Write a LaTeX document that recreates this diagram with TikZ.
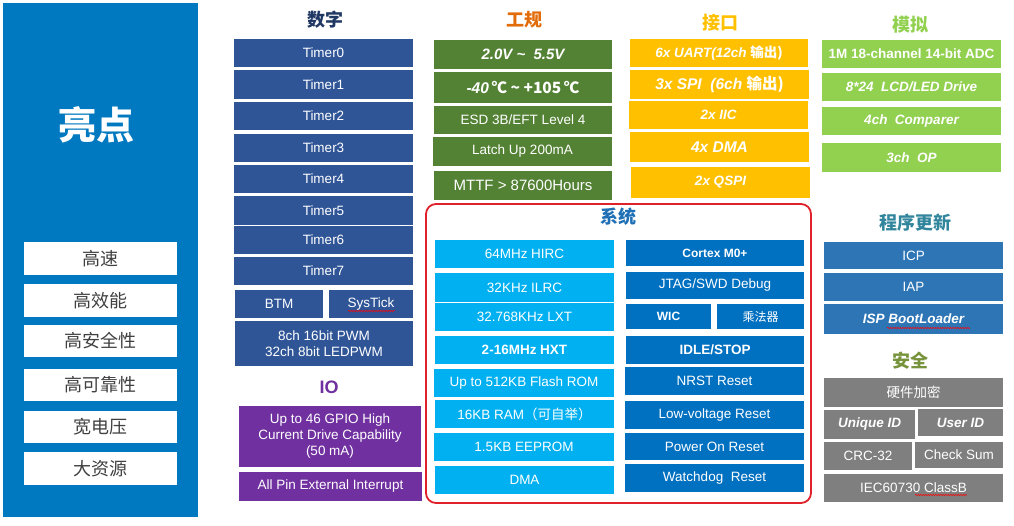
\documentclass[tikz,border=0pt]{standalone}
\usepackage{fontspec}
\setmainfont{Liberation Sans}
\newfontfamily\cjk{Noto Sans CJK SC}
\usetikzlibrary{decorations.pathmorphing}
\definecolor{cdig}{HTML}{2F5597}
\definecolor{cgg}{HTML}{548235}
\definecolor{cjk}{HTML}{FFC000}
\definecolor{cmn}{HTML}{92D050}
\definecolor{csl}{HTML}{00B0F0}
\definecolor{csd}{HTML}{0070C0}
\definecolor{cup}{HTML}{2E75B6}
\definecolor{cgr}{HTML}{7F7F7F}
\definecolor{cio}{HTML}{7030A0}
\definecolor{cpanel}{HTML}{0079C1}
\definecolor{cred}{HTML}{E0202A}
\definecolor{ctxt}{HTML}{404040}
\definecolor{hdig}{HTML}{203864}
\definecolor{hgg}{HTML}{E36C0A}
\definecolor{hsys}{HTML}{1F6FB5}
\definecolor{hup}{HTML}{31859C}
\definecolor{hsec}{HTML}{77933C}
\tikzset{
  bx/.style={draw=none,inner sep=0pt,text=white,align=center,font=\fontsize{13.5}{16}\selectfont},
  hd/.style={inner sep=0pt,font=\cjk\bfseries\fontsize{18}{20}\selectfont},
  wb/.style={fill=white,inner sep=0pt,minimum width=153pt,text=ctxt,font=\cjk\fontsize{18}{20}\selectfont},
  squig/.style={draw=red,line width=0.5pt,decorate,decoration={snake,amplitude=0.7pt,segment length=2.5pt}}
}
\newcommand\bx[7]{\node[bx,fill=#2,minimum width=#5pt,minimum height=#6pt] (#1) at (#3+#5/2,#4+#6/2) {#7};}
\begin{document}
\begin{tikzpicture}[x=1pt,y=-1pt]
\useasboundingbox (0,0) rectangle (1014,526);
% left panel
\fill[cpanel] (3,3) rectangle (198,517);
\node[inner sep=0pt,text=white,font=\cjk\bfseries\fontsize{38}{40}\selectfont] (hl) at (96,125) {亮点};
\node[wb,minimum height=33pt] (w1) at (100.5,258.5) {高速};
\node[wb,minimum height=33pt] (w2) at (100.5,300.5) {高效能};
\node[wb,minimum height=32pt] (w3) at (100.5,341) {高安全性};
\node[wb,minimum height=32pt] (w4) at (100.5,385) {高可靠性};
\node[wb,minimum height=32pt] (w5) at (100.5,427) {宽电压};
\node[wb,minimum height=33pt] (w6) at (100.5,468.5) {大资源};
% headings
\node[hd,text=hdig] (h1) at (325,20) {数字};
\node[hd,text=hgg] (h2) at (524,20) {工规};
\node[hd,text=cjk] (h3) at (720,23) {接口};
\node[hd,text=cmn] (h4) at (910,25) {模拟};
\node[hd,text=hup] (h6) at (915,223) {程序更新};
\node[hd,text=hsec] (h7) at (910,361) {安全};
\node[inner sep=0pt,text=cio,font=\bfseries\fontsize{18}{20}\selectfont] (h8) at (329,387) {IO};
% digital
\bx{t0}{cdig}{234}{39}{179}{28}{Timer0}
\bx{t1}{cdig}{234}{70}{179}{29}{Timer1}
\bx{t2}{cdig}{234}{102}{179}{28}{Timer2}
\bx{t3}{cdig}{234}{134}{179}{28}{Timer3}
\bx{t4}{cdig}{234}{165}{179}{28}{Timer4}
\bx{t5}{cdig}{234}{196}{179}{29}{Timer5}
\bx{t6}{cdig}{234}{226}{179}{28}{Timer6}
\bx{t7}{cdig}{234}{257}{179}{28}{Timer7}
\bx{btm}{cdig}{235}{290}{88}{28}{BTM}
\bx{sys}{cdig}{329}{290}{84}{28}{SysTick}
\bx{pwm}{cdig}{235}{321}{178}{45}{8ch 16bit PWM\\32ch 8bit LEDPWM}
\bx{gpio}{cio}{239}{406}{182}{61}{Up to 46 GPIO High\\Current Drive Capability\\(50 mA)}
\bx{apin}{cio}{239}{472}{183}{29}{All Pin External Interrupt}
% gongui
\bx{g1}{cgg}{434}{40}{178}{29}{\bfseries\itshape\fontsize{15}{17}\selectfont 2.0V \textasciitilde\ \ 5.5V}
\bx{g2}{cgg}{434}{72}{178}{31}{\bfseries\itshape\fontsize{15.5}{17}\selectfont -40\,\cjk{℃} \textasciitilde\ +105\,\cjk{℃}}
\bx{g3}{cgg}{434}{106}{178}{28}{ESD 3B/EFT Level 4}
\bx{g4}{cgg}{433}{137}{179}{29}{Latch Up 200mA}
\bx{g5}{cgg}{434}{171}{178}{29}{\fontsize{15}{17}\selectfont MTTF > 87600Hours}
% jiekou
\bx{j1}{cjk}{630}{39}{178}{28}{\bfseries\itshape 6x UART(12ch \cjk{输出})}
\bx{j2}{cjk}{630}{70}{179}{29}{\bfseries\itshape\fontsize{15.5}{18}\selectfont 3x SPI\ \ (6ch \cjk{输出})}
\bx{j3}{cjk}{629}{101}{179}{28}{\bfseries\itshape 2x IIC}
\bx{j4}{cjk}{630}{132}{179}{30}{\bfseries\itshape\fontsize{15.5}{18}\selectfont 4x DMA}
\bx{j5}{cjk}{631}{167}{179}{31}{\bfseries\itshape 2x QSPI}
% moni
\bx{m1}{cmn}{822}{40}{179}{28}{\bfseries 1M 18-channel 14-bit ADC}
\bx{m2}{cmn}{822}{73}{179}{28}{\bfseries\itshape 8*24\ \ LCD/LED Drive}
\bx{m3}{cmn}{822}{107}{179}{28}{\bfseries\itshape 4ch\ \ Comparer}
\bx{m4}{cmn}{822}{143}{179}{29}{\bfseries\itshape 3ch\ \ OP}
% system frame
\draw[cred,line width=1.8pt,rounded corners=10pt] (426,204) rectangle (811,503);
\node[hd,text=hsys] (h5) at (618,217) {系统};
\bx{s1}{csl}{435}{240}{179}{28}{64MHz HIRC}
\bx{s2}{csl}{435}{273}{179}{29}{32KHz ILRC}
\bx{s3}{csl}{435}{303}{179}{28}{32.768KHz LXT}
\bx{s4}{csl}{435}{336}{179}{28}{\bfseries 2-16MHz HXT}
\bx{s5}{csl}{434}{369}{180}{28}{Up to 512KB Flash ROM}
\bx{s6}{csl}{435}{400}{179}{28}{16KB RAM\cjk{（可自举）}}
\bx{s7}{csl}{434}{433}{180}{28}{1.5KB EEPROM}
\bx{s8}{csl}{435}{466}{179}{28}{DMA}
\bx{r1}{csd}{626}{240}{178}{26}{\bfseries\fontsize{12}{14}\selectfont Cortex M0+}
\bx{r2}{csd}{626}{272}{178}{27}{JTAG/SWD Debug}
\bx{r3a}{csd}{626}{304}{85}{25}{\bfseries\fontsize{12}{14}\selectfont WIC}
\bx{r3b}{csd}{717}{304}{87}{25}{\cjk\fontsize{12}{14}\selectfont 乘法器}
\bx{r4}{csd}{626}{336}{178}{28}{\bfseries IDLE/STOP}
\bx{r5}{csd}{625}{367}{179}{28}{NRST Reset}
\bx{r6}{csd}{625}{401}{179}{28}{Low-voltage Reset}
\bx{r7}{csd}{625}{433}{179}{27}{Power On Reset}
\bx{r8}{csd}{625}{464}{179}{28}{Watchdog\ \ Reset}
% update
\bx{u1}{cup}{824}{242}{179}{27}{ICP}
\bx{u2}{cup}{824}{273}{179}{28}{IAP}
\bx{u3}{cup}{824}{304}{179}{30}{\bfseries\itshape ISP BootLoader}
% security
\bx{k1}{cgr}{824}{378}{179}{29}{\cjk 硬件加密}
\bx{k2}{cgr}{824}{410}{91}{29}{\bfseries\itshape Unique ID}
\bx{k3}{cgr}{918}{409}{85}{27}{\bfseries\itshape User ID}
\bx{k4}{cgr}{824}{442}{88}{28}{CRC-32}
\bx{k5}{cgr}{915}{442}{88}{26}{Check Sum}
\bx{k6}{cgr}{824}{474}{179}{28}{IEC60730 ClassB}
% spell-check squiggles
\path[squig] (348,311) -- (395,311);
\path[squig] (887,328) -- (970,328);
\path[squig] (915,495) -- (967,495);
\end{tikzpicture}
\end{document}
